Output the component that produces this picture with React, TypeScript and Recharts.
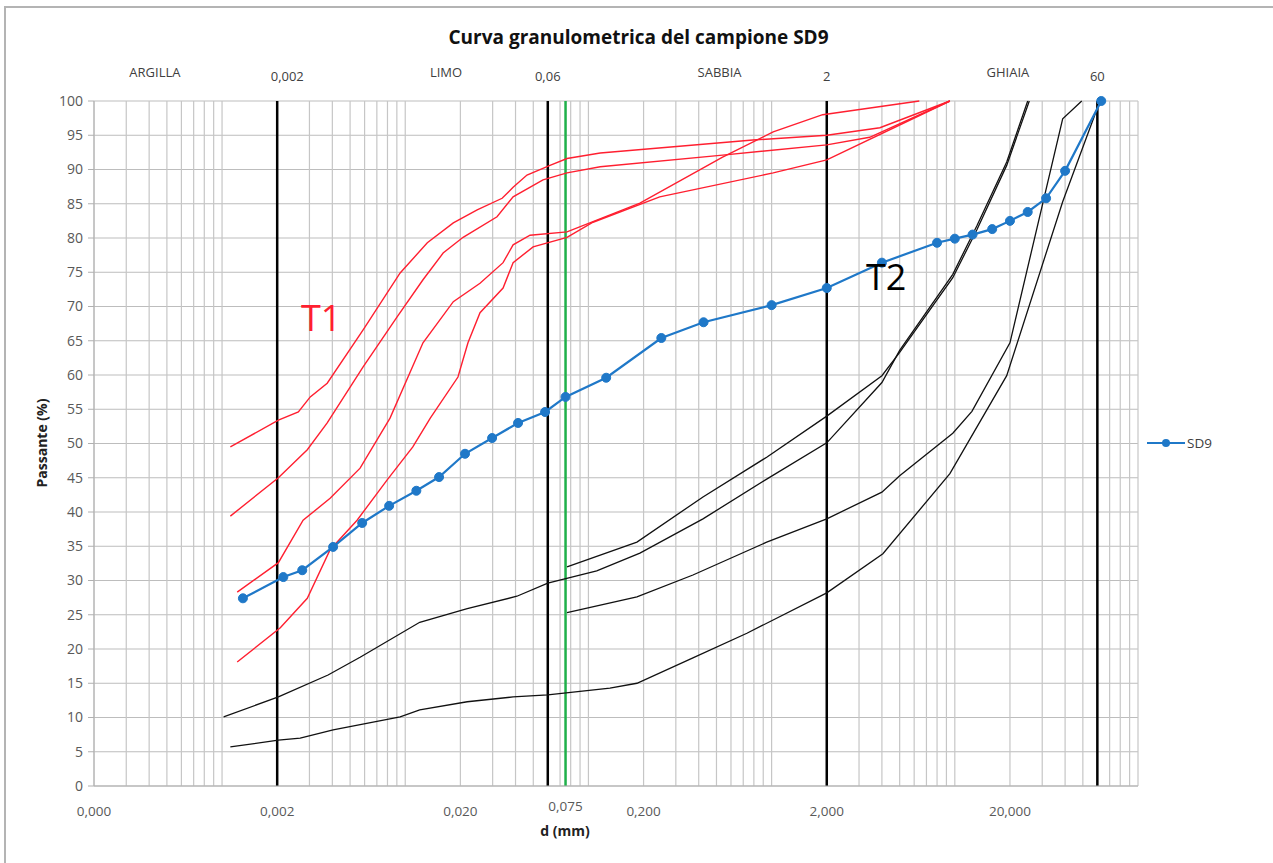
import React from 'react'
import { ComposedChart, Line, XAxis, YAxis, CartesianGrid, ReferenceLine } from 'recharts'

// SD9 sample (sieve + hydrometer)
const sd9D = [0.0013, 0.00216, 0.00274, 0.00404, 0.00582, 0.00817, 0.0115, 0.0153, 0.0212, 0.0298, 0.0413, 0.058, 0.075, 0.125, 0.25, 0.425, 1, 2, 4, 8, 10, 12.5, 16, 20, 25, 31.5, 40, 63]
const sd9V = [27.4, 30.5, 31.5, 34.9, 38.4, 40.9, 43.1, 45.1, 48.5, 50.8, 53.0, 54.6, 56.8, 59.6, 65.4, 67.7, 70.2, 72.7, 76.4, 79.3, 79.9, 80.5, 81.3, 82.5, 83.8, 85.8, 89.8, 100]

// T1 envelope (red)
const t1aD = [0.00111, 0.00203, 0.00261, 0.00303, 0.00375, 0.00589, 0.00938, 0.0132, 0.0183, 0.0247, 0.0338, 0.0388, 0.0462, 0.0617, 0.0764, 0.116, 0.79, 2, 3.9, 9.4]
const t1aV = [49.5, 53.4, 54.6, 56.8, 58.8, 66.6, 74.9, 79.3, 82.2, 84.1, 85.8, 87.4, 89.2, 90.6, 91.6, 92.4, 94.3, 95.0, 96.1, 100]
const t1bD = [0.00111, 0.00203, 0.00292, 0.00375, 0.00589, 0.00903, 0.0125, 0.0161, 0.0207, 0.0317, 0.0388, 0.0565, 0.0764, 0.116, 0.54, 2, 3.43, 9.4]
const t1bV = [39.4, 45.0, 49.1, 53.0, 61.2, 68.5, 73.9, 77.8, 80.1, 83.1, 86.0, 88.5, 89.5, 90.4, 92.1, 93.6, 94.7, 100]
const t1cD = [0.00121, 0.00203, 0.00277, 0.00389, 0.00567, 0.00826, 0.0125, 0.0183, 0.0256, 0.0342, 0.0388, 0.048, 0.0764, 0.191, 0.54, 1.02, 1.9, 6.4]
const t1cV = [28.3, 32.6, 38.8, 42.0, 46.4, 53.7, 64.7, 70.7, 73.4, 76.4, 79.0, 80.4, 80.9, 85.1, 91.8, 95.5, 98.0, 100]
const t1dD = [0.00121, 0.00208, 0.00292, 0.00389, 0.00546, 0.00797, 0.011, 0.0137, 0.0194, 0.022, 0.0256, 0.0342, 0.0388, 0.0499, 0.0764, 0.106, 0.245, 1.02, 2, 9.4]
const t1dV = [18.1, 23.1, 27.4, 34.5, 38.8, 44.7, 49.5, 53.7, 59.7, 64.7, 69.1, 72.7, 76.4, 78.7, 80.1, 82.3, 86.0, 89.5, 91.4, 100]

// T2 envelope (black)
const t2eD = [0.00111, 0.00203, 0.00267, 0.00404, 0.00938, 0.012, 0.0218, 0.0388, 0.06, 0.131, 0.184, 0.372, 0.733, 2, 4.05, 9.4, 19.2, 38.8, 62]
const t2eV = [5.7, 6.7, 7.0, 8.2, 10.1, 11.1, 12.3, 13.0, 13.3, 14.3, 15.0, 18.7, 22.3, 28.2, 33.9, 45.6, 59.9, 85.3, 100]
const t2fD = [0.00102, 0.00203, 0.00379, 0.00567, 0.012, 0.0218, 0.0407, 0.06, 0.111, 0.191, 0.422, 0.94, 2, 4, 5, 9.75, 13.2, 19.2, 25]
const t2fV = [10.1, 13.0, 16.2, 18.8, 23.9, 25.9, 27.7, 29.6, 31.4, 34.0, 39.0, 44.8, 50.1, 58.9, 63.6, 74.7, 81.8, 91.1, 100]
const t2gD = [0.0764, 0.184, 0.422, 0.94, 2, 4, 5, 9.75, 13.2, 19.2, 25.5]
const t2gV = [32.0, 35.6, 42.2, 48.0, 54.0, 59.9, 63.3, 74.2, 81.2, 90.6, 100]
const t2hD = [0.0764, 0.184, 0.372, 0.94, 2, 4, 5, 9.75, 12.4, 20, 38.8, 49.3]
const t2hV = [25.3, 27.6, 30.8, 35.6, 39.0, 42.9, 45.3, 51.5, 54.7, 64.7, 97.4, 100]

// axes
const bottomTicks = [0.0002, 0.002, 0.02, 0.075, 0.2, 2, 20]
const topTickD = [0.00043, 0.00227, 0.0167, 0.06, 0.52, 2, 19.5, 60]
const topTickLabels = ['ARGILLA', '0,002', 'LIMO', '0,06', 'SABBIA', '2', 'GHIAIA', '60']
const yTicks = [0, 5, 10, 15, 20, 25, 30, 35, 40, 45, 50, 55, 60, 65, 70, 75, 80, 85, 90, 95, 100]
const boundaryD = [0.002, 0.06, 2, 60]
const sieveD = 0.075

const zip = (d: number[], v: number[]) => d.map((x, i) => ({ d: x, v: v[i] }))

// log grid: 1..9 in each decade
const gridD: number[] = []
for (let e = -4; e <= 2; e++) {
  for (let m = 1; m <= 9; m++) {
    const val = m * Math.pow(10, e)
    if (val >= 0.0002 - 1e-12 && val <= 100 + 1e-9) gridD.push(val)
  }
}

const FONT = '"Open Sans", "Liberation Sans", sans-serif'
const RED = '#ff1f30'
const BLUE = '#1f78c8'
const BLACK = '#111111'

const fmt = (v: number) => v.toFixed(3).replace('.', ',')

const BottomTick = (props: any) => {
  const { x, y, payload } = props
  const up = payload.value === 0.075 ? -5 : 0
  return (
    <text x={x} y={y + 22 + up} textAnchor="middle" fontSize={13.5} fontFamily={FONT} fill="#595959">
      {fmt(payload.value)}
    </text>
  )
}

const TopTick = (props: any) => {
  const { x, y, payload } = props
  const i = topTickD.indexOf(payload.value)
  const label = topTickLabels[i] ?? ''
  const isNum = /\d/.test(label)
  return (
    <text x={x} y={y - (isNum ? 12 : 16)} textAnchor="middle" fontSize={13} fontFamily={FONT} fill="#404040">
      {label}
    </text>
  )
}

const curves = [
  { id: 't1a', data: zip(t1aD, t1aV), color: RED, w: 1.4 },
  { id: 't1b', data: zip(t1bD, t1bV), color: RED, w: 1.4 },
  { id: 't1c', data: zip(t1cD, t1cV), color: RED, w: 1.4 },
  { id: 't1d', data: zip(t1dD, t1dV), color: RED, w: 1.4 },
  { id: 't2e', data: zip(t2eD, t2eV), color: BLACK, w: 1.3 },
  { id: 't2f', data: zip(t2fD, t2fV), color: BLACK, w: 1.3 },
  { id: 't2g', data: zip(t2gD, t2gV), color: BLACK, w: 1.3 },
  { id: 't2h', data: zip(t2hD, t2hV), color: BLACK, w: 1.3 },
]

export default function App() {
  return (
    <div style={{ position: 'absolute', left: 0, top: 0, width: 1273, height: 863, background: '#fff', overflow: 'hidden', fontFamily: FONT }}>
      <div style={{ position: 'absolute', left: 4, top: 6, width: 1290, height: 880, border: '2px solid #b4b4b4' }} />
      <div style={{ position: 'absolute', left: 0, width: 1277, top: 24, textAlign: 'center', fontSize: 19, fontWeight: 700, color: '#111', lineHeight: '26px' }}>
        Curva granulometrica del campione SD9
      </div>
      <ComposedChart width={1273} height={863} margin={{ top: 71, right: 135, bottom: 47, left: 54 }} style={{ position: 'absolute', left: 0, top: 0 }}>
        <CartesianGrid xAxisId="main" stroke="#bdbdbd" strokeWidth={1} vertical={false} />
        <XAxis
          xAxisId="main"
          dataKey="d"
          type="number"
          scale="log"
          domain={[0.0002, 100]}
          allowDataOverflow
          ticks={bottomTicks}
          tick={<BottomTick />}
          tickLine={false}
          height={30}
          axisLine={{ stroke: '#b0b0b0' }}
          interval={0}
        />
        <XAxis
          xAxisId="top"
          orientation="top"
          dataKey="d"
          type="number"
          scale="log"
          domain={[0.0002, 100]}
          allowDataOverflow
          ticks={topTickD}
          tick={<TopTick />}
          tickLine={false}
          axisLine={false}
          height={30}
          interval={0}
        />
        <YAxis
          type="number"
          domain={[0, 100]}
          ticks={yTicks}
          interval={0}
          width={40}
          tickSize={6}
          tickMargin={5}
          tick={{ fontSize: 14, fontFamily: FONT, fill: '#595959' }}
          tickLine={{ stroke: '#b0b0b0' }}
          axisLine={{ stroke: '#b0b0b0' }}
        />
        {gridD.map((d) => (
          <ReferenceLine key={'g' + d} xAxisId="main" x={d} stroke="#c6c6c6" strokeWidth={1.2} />
        ))}
        {boundaryD.map((d) => (
          <ReferenceLine key={d} xAxisId="main" x={d} stroke="#000" strokeWidth={2.5} />
        ))}
        <ReferenceLine xAxisId="main" x={sieveD} stroke="#1fb04a" strokeWidth={2.5} />
        {curves.map((c) => (
          <Line
            key={c.id}
            xAxisId="main"
            data={c.data}
            dataKey="v"
            type="linear"
            stroke={c.color}
            strokeWidth={c.w}
            dot={false}
            activeDot={false}
            isAnimationActive={false}
          />
        ))}
        <Line
          xAxisId="main"
          data={zip(sd9D, sd9V)}
          dataKey="v"
          name="SD9"
          type="linear"
          stroke={BLUE}
          strokeWidth={2.2}
          dot={{ r: 4.5, fill: BLUE, stroke: BLUE, strokeWidth: 1 }}
          activeDot={false}
          isAnimationActive={false}
        />
      </ComposedChart>
      <div style={{ position: 'absolute', left: 42 - 60, top: 443 - 10, width: 120, height: 20, lineHeight: '20px', textAlign: 'center', transform: 'rotate(-90deg)', fontSize: 14, fontWeight: 700, color: '#222' }}>
        Passante (%)
      </div>
      <div style={{ position: 'absolute', left: 515, width: 100, top: 821, textAlign: 'center', fontSize: 14, fontWeight: 700, color: '#222', lineHeight: '20px' }}>
        d (mm)
      </div>
      <div style={{ position: 'absolute', left: 301, top: 297, fontSize: 36, color: RED, lineHeight: '42px' }}>T1</div>
      <div style={{ position: 'absolute', left: 866, top: 256, fontSize: 36, color: '#000', lineHeight: '42px' }}>T2</div>
      <div style={{ position: 'absolute', left: 1146, top: 434, height: 18, display: 'flex', alignItems: 'center' }}>
        <svg width={40} height={18}>
          <line x1={1} y1={9} x2={39} y2={9} stroke={BLUE} strokeWidth={2.2} />
          <circle cx={20} cy={9} r={4} fill={BLUE} />
        </svg>
        <span style={{ fontSize: 13.5, color: '#404040', marginLeft: 1 }}>SD9</span>
      </div>
    </div>
  )
}
